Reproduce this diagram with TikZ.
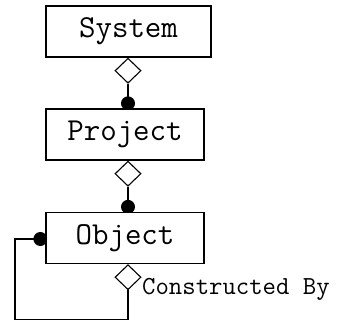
\documentclass[tikz,border=0pt]{standalone}
\usetikzlibrary{shapes.geometric,calc}
\pgfdeclarelayer{under}
\pgfsetlayers{under,main}
\begin{document}
\begin{tikzpicture}[x=1pt,y=-1pt,
  classbox/.style={draw, fill=white, line width=1.3pt, minimum width=158pt,
    minimum height=51pt, inner sep=0pt, font=\ttfamily\fontsize{32}{36}\selectfont},
  aggr/.style={diamond, draw, fill=white, line width=1.1pt, minimum width=26pt,
    minimum height=25pt, inner sep=0pt, anchor=north},
  rolebullet/.style={circle, fill=black, minimum size=14pt, inner sep=0pt},
  link/.style={line width=1.1pt}]
  \useasboundingbox (0,0) rectangle (343,323);
  \coordinate (axis) at (128,0);

  % classes
  \node[classbox, minimum width=165pt] (sys) at (128.5,31.5) {System};
  \node[classbox] (pro) at (125,134.5) {Project};
  \node[classbox] (obj) at (125,238) {Object};

  % aggregation diamonds on the lower edges
  \node[aggr] (d1) at (sys.south -| axis) {};
  \node[aggr] (d2) at (pro.south -| axis) {};
  \node[aggr] (d3) at (obj.south -| axis) {};

  \node[anchor=base west, inner sep=0pt, font=\ttfamily\fontsize{26}{30}\selectfont]
    (lbl) at (142,295) {Constructed By};

  \begin{pgfonlayer}{under}
    % part ends: filled bullets half hidden by the boxes
    \node[rolebullet] (b1) at ($(pro.north -| axis)+(0,-5)$) {};
    \node[rolebullet] (b2) at ($(obj.north -| axis)+(0,-5)$) {};
    \node[rolebullet] (b3) at ($(obj.west)+(-5,1)$) {};
    \draw[link] (d1.south) -- (b1.center);
    \draw[link] (d2.south) -- (b2.center);
    % recursive association of Object
    \coordinate (corner) at (15,319.5);
    \draw[link] (b3.center) -| (corner) -| (d3.south);
  \end{pgfonlayer}
\end{tikzpicture}
\end{document}
